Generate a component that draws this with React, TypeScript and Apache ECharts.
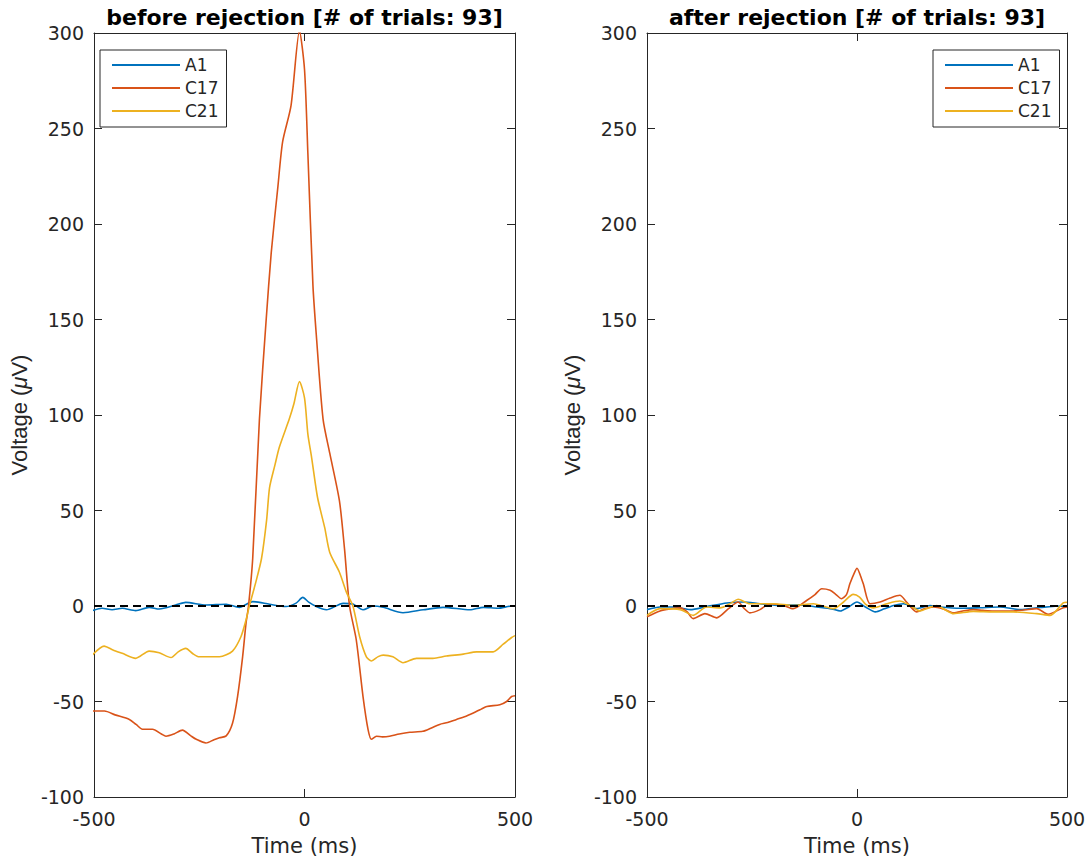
import React, { useEffect, useRef } from "react";
import * as echarts from "echarts";

// ---- Data (time in ms, voltage in µV) ----
const seriesNames = ["A1", "C17", "C21"];
const seriesColors = ["#0072BD", "#D95319", "#EDB120"];
const xTicks = [-500, 0, 500];
const yRange = [-100, 300];

// before rejection
const beforeA1T = [-504, -481, -457, -433, -401, -369, -345, -306, -282, -234, -186, -155, -123, -83, -44, -20, -4, 10, 28, 52, 92, 115, 139, 163, 187, 234, 282, 329, 393, 425, 460, 492, 500];
const beforeA1V = [-2.4, -1.2, -2, -1.2, -2.4, -0.7, -1.6, 0.5, 1.9, 0.5, 0.9, -0.7, 2.3, 0.9, -0.3, 1.5, 4.5, 2, -0.3, -2, 1.4, 1, -2, 0, -0.7, -3.5, -2, -0.7, -2, -0.7, -1.2, 0, 0];

const beforeC17T = [-504, -475, -450, -416, -400, -385, -361, -340, -329, -310, -290, -270, -257, -234, -215, -202, -186, -171, -159, -147, -139, -133, -123, -107, -91, -79, -63, -52, -32, -12, 0, 8, 20, 28, 44, 60, 83, 95, 107, 123, 139, 151, 159, 171, 185, 202, 225, 250, 281, 300, 321, 340, 361, 380, 401, 420, 433, 464, 480, 492, 500];
const beforeC17V = [-55, -55, -57, -59.4, -62, -64.5, -64.5, -67, -68.2, -67, -65, -68, -69.8, -71.7, -70, -69, -68, -61.4, -47.4, -26.6, -9.2, 0, 25, 98, 150, 185, 220, 243, 262, 301, 281, 237, 168, 142, 98, 80, 55, 30, 0, -17.8, -47.4, -64.7, -69.8, -68.2, -68.5, -68.2, -67, -66.1, -65.6, -64, -62, -61, -59.4, -58, -56, -54, -52.6, -51.7, -50, -47.4, -47];

const beforeC21T = [-504, -476, -455, -433, -401, -369, -345, -317, -300, -282, -265, -250, -225, -202, -171, -151, -139, -131, -115, -102, -90, -83, -70, -60, -36, -25, -12, 0, 8, 17, 31, 48, 60, 83, 100, 115, 131, 147, 159, 175, 187, 210, 234, 266, 305, 337, 377, 409, 448, 472, 492, 500];
const beforeC21V = [-25.7, -21, -23, -24.8, -27.4, -23.6, -24.5, -27, -24, -22.2, -25, -26.6, -26.6, -26.6, -23.6, -16.1, -7.4, 0, 13, 25, 45, 62, 74, 83, 98, 106, 117.5, 109, 90, 77.6, 56.8, 41, 28, 17.7, 7, 0, -16.1, -26.6, -28.8, -26.5, -25.7, -26.6, -29.7, -27.4, -27.4, -26.2, -25.2, -24, -24, -20, -16.5, -15.5];

// after rejection
const afterA1T = [-500, -469, -437, -397, -358, -310, -271, -231, -183, -136, -96, -60, -40, -20, 0, 20, 44, 65, 87, 111, 142, 174, 198, 245, 293, 340, 389, 436, 491, 500];
const afterA1V = [-1.9, -0.5, -0.5, -1.9, -0.3, 1.6, 2.1, 1.2, 0.3, 0.6, -0.5, -1.5, -2.6, -0.5, 2.1, -0.5, -3.1, -1.5, 0.3, 1.2, -1.4, 0.3, -0.5, -1.2, -0.9, -0.5, -1.9, -0.8, 0, 0];

const afterC17T = [-500, -469, -445, -421, -405, -390, -362, -334, -306, -283, -270, -255, -231, -207, -175, -152, -120, -100, -84, -64, -50, -37, -25, -17, -5, 0, 8, 15, 31, 55, 79, 102, 118, 142, 160, 182, 205, 230, 255, 277, 300, 325, 372, 400, 428, 455, 491, 500];
const afterC17V = [-5.7, -2.6, -1.5, -1, -3, -6.6, -4, -6.2, -1.4, 2.1, -1, -3.6, -1.9, 1.2, 0.3, -1.4, 2.9, 6, 9, 8.2, 6, 3.8, 6, 11.6, 18, 19.8, 16, 11.6, 1.2, 2.1, 4.2, 5.6, 2.1, -3.1, -1.5, -0.5, -1.5, -3.6, -2.5, -1.9, -2.3, -2.6, -2.6, -2, -1.4, -4.3, -0.9, -0.5];

const afterC21T = [-500, -469, -421, -390, -358, -326, -300, -283, -255, -199, -152, -104, -56, -32, -9, 6, 20, 39, 71, 102, 126, 150, 170, 190, 210, 230, 277, 325, 372, 428, 460, 491, 500];
const afterC21V = [-4.9, -1.4, -1.9, -4.9, -0.5, -1, 1.5, 3.5, 1.2, 1.2, 0.3, 1.2, -1.4, 2.1, 6.1, 4.7, 1, -1, 1.2, 2.6, 0.3, -2.6, -1, 0.3, -2, -4, -2.8, -3.1, -3.1, -4, -4.9, 1.6, 2];

const zeroT = [-500, 500];
const zeroV = [0, 0];

const titles = ["before rejection [# of trials: 93]", "after rejection [# of trials: 93]"];

const zip = (t: number[], v: number[]) => t.map((x, i) => [x, v[i]]);

const AX = "#262626";
const FONT = "DejaVu Sans";

export default function App() {
  const ref = useRef<HTMLDivElement>(null);
  useEffect(() => {
    if (!ref.current) return;
    document.documentElement.style.overflow = "hidden";
    document.body.style.margin = "0";
    document.body.style.overflow = "hidden";
    const chart = echarts.init(ref.current, null, { renderer: "svg" });

    const grids = [
      { left: 94, top: 33, width: 421, height: 768 },
      { left: 647, top: 33, width: 420, height: 768 },
    ];
    const xAxes: any[] = [];
    const yAxes: any[] = [];
    grids.forEach((_, g) => {
      const common = {
        gridIndex: g,
        type: "value",
        axisLine: { show: true, onZero: false, lineStyle: { color: AX, width: 1 } },
        axisTick: { show: true, inside: true, length: 8, lineStyle: { color: AX, width: 1 } },
        splitLine: { show: false },
      };
      xAxes.push({
        ...common,
        position: "bottom",
        min: xTicks[0],
        max: xTicks[xTicks.length - 1],
        interval: 500,
        axisLabel: { show: true, color: AX, fontSize: 19, fontFamily: FONT, margin: 12 },
        name: "Time (ms)",
        nameLocation: "middle",
        nameGap: 38,
        nameTextStyle: { color: AX, fontSize: 21, fontFamily: FONT },
      });
      xAxes.push({
        ...common,
        position: "top",
        min: xTicks[0],
        max: xTicks[xTicks.length - 1],
        interval: 500,
        axisLabel: { show: false },
      });
      yAxes.push({
        ...common,
        position: "left",
        min: yRange[0],
        max: yRange[1],
        interval: 50,
        axisLabel: { show: true, color: AX, fontSize: 19, fontFamily: FONT, margin: 10 },
        name: "Voltage ({it|μ}V)",
        nameLocation: "middle",
        nameGap: 64,
        nameRotate: 90,
        nameTextStyle: {
          color: AX,
          fontSize: 22,
          fontFamily: "Liberation Sans",
          rich: { it: { fontStyle: "italic", fontSize: 22, fontFamily: "Liberation Sans", color: AX } },
        },
      });
      yAxes.push({
        ...common,
        position: "right",
        min: yRange[0],
        max: yRange[1],
        interval: 50,
        axisLabel: { show: false },
      });
    });

    const data = [
      [zip(beforeA1T, beforeA1V), zip(beforeC17T, beforeC17V), zip(beforeC21T, beforeC21V)],
      [zip(afterA1T, afterA1V), zip(afterC17T, afterC17V), zip(afterC21T, afterC21V)],
    ];
    const series: any[] = [];
    data.forEach((set, g) => {
      set.forEach((d, i) => {
        series.push({
          type: "line",
          name: seriesNames[i],
          xAxisIndex: g * 2,
          yAxisIndex: g * 2,
          data: d,
          symbol: "none",
          smooth: 0.25,
          lineStyle: { color: seriesColors[i], width: 1.6 },
          itemStyle: { color: seriesColors[i] },
          z: 2 + i,
        });
      });
      series.push({
        type: "line",
        name: "zero",
        xAxisIndex: g * 2,
        yAxisIndex: g * 2,
        data: zip(zeroT, zeroV),
        symbol: "none",
        lineStyle: { color: "#000", width: 1.8, type: [8, 5] },
        z: 6,
      });
    });

    const legendCommon = {
      data: seriesNames.map((n) => ({ name: n, icon: "rect" })),
      orient: "vertical",
      top: 50,
      itemWidth: 68,
      itemHeight: 1.8,
      itemGap: 3,
      padding: [5, 8, 6, 12],
      borderColor: AX,
      borderWidth: 1,
      backgroundColor: "#fff",
      selectedMode: false,
      textStyle: { color: AX, fontSize: 17, fontFamily: FONT, lineHeight: 20 },
    };

    chart.setOption({
      animation: false,
      backgroundColor: "#fff",
      title: titles.map((t, g) => ({
        text: t,
        left: g === 0 ? 304.5 : 857,
        top: 6,
        textAlign: "center",
        padding: 0,
        textStyle: { color: "#000", fontSize: 22, fontWeight: "bold", fontFamily: FONT },
      })),
      grid: grids,
      xAxis: xAxes,
      yAxis: yAxes,
      legend: [
        { ...legendCommon, left: 100 },
        { ...legendCommon, left: 933 },
      ],
      series,
    });
    return () => chart.dispose();
  }, []);
  return (
    <div style={{ position: "absolute", left: 0, top: 0, width: 1089, height: 861, overflow: "hidden" }}>
      <div ref={ref} style={{ width: 1089, height: 861 }} />
    </div>
  );
}
